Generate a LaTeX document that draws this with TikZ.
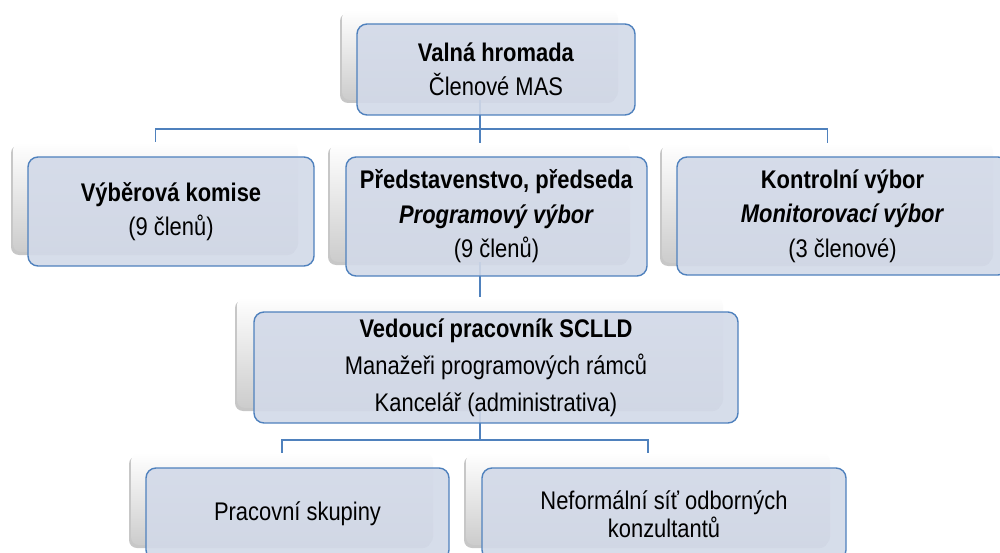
\documentclass[tikz,border=0pt]{standalone}
\usepackage{fontspec}
\setmainfont{Liberation Sans}[FakeStretch=0.86]
\usetikzlibrary{shadows}
\definecolor{accent}{HTML}{4F81BD}
\definecolor{frontfill}{HTML}{D2D9E8}
\tikzset{
  backbox/.style={rectangle, rounded corners=8pt, inner sep=0pt,
    top color=white, bottom color=black!20, draw=none,
    drop shadow={shadow xshift=-2pt, shadow yshift=-3pt, opacity=0.22, fill=black}},
  frontbox/.style={rectangle, rounded corners=10pt, inner sep=0pt, draw=accent, line width=1.4pt,
    fill=frontfill, fill opacity=0.9, text opacity=1, align=center,
    font=\fontsize{25.5}{34.5}\selectfont},
  conn/.style={draw=accent, line width=1.4pt}
}
\begin{document}
\begin{tikzpicture}[x=1pt,y=1pt]
\useasboundingbox (0,0) rectangle (1000,-553);
\clip (0,0) rectangle (1000,-553);
% back boxes
\node[backbox, minimum width=276pt, minimum height=90pt] (tb) at (480,-55) {};
\node[backbox, minimum width=285pt, minimum height=110pt] (vb) at (155.5,-197) {};
\node[backbox, minimum width=300pt, minimum height=119pt] (pb) at (480,-202.5) {};
\node[backbox, minimum width=331pt, minimum height=120pt] (kb) at (827.5,-203) {};
\node[backbox, minimum width=486pt, minimum height=111pt] (sb) at (480,-352.5) {};
\node[backbox, minimum width=302pt, minimum height=92pt] (wb) at (282,-499) {};
\node[backbox, minimum width=364pt, minimum height=92pt] (nb) at (648,-499) {};
% connectors
\coordinate (bus1) at (480,-129);
\coordinate (bus2) at (480,-440);
\draw[conn] (tb.south) -- (bus1);
\draw[conn] (vb.north) -- (vb.north |- bus1) -- (kb.north |- bus1) -- (kb.north);
\draw[conn] (bus1) -- (pb.north);
\draw[conn] (pb.south) -- (sb.north);
\draw[conn] (sb.south) -- (bus2);
\draw[conn] (wb.north) -- (wb.north |- bus2) -- (nb.north |- bus2) -- (nb.north);
% front boxes
\node[frontbox, minimum width=278pt, minimum height=91pt] (tf) at (496,-69.5)
  {\textbf{Valná hromada}\\Členové MAS};
\node[frontbox, minimum width=286pt, minimum height=109pt] (vf) at (171,-211.5)
  {\textbf{Výběrová komise}\\(9 členů)};
\node[frontbox, minimum width=301pt, minimum height=119pt] (pf) at (496.5,-216.5)
  {\textbf{Představenstvo, předseda}\\\textbf{\textit{Programový výbor}}\\(9 členů)};
\node[frontbox, minimum width=331pt, minimum height=118pt] (kf) at (842.5,-216)
  {\textbf{Kontrolní výbor}\\\textbf{\textit{Monitorovací výbor}}\\(3 členové)};
\node[frontbox, minimum width=484pt, minimum height=111pt, font=\fontsize{25.5}{37}\selectfont] (sf) at (496,-367.5)
  {\textbf{Vedoucí pracovník SCLLD}\\Manažeři programových rámců\\Kancelář (administrativa)};
\node[frontbox, minimum width=303pt, minimum height=92pt] (wf) at (297.5,-514)
  {Pracovní skupiny};
\node[frontbox, minimum width=364pt, minimum height=92pt, font=\fontsize{25.5}{28}\selectfont] (nf) at (664,-514)
  {Neformální síť odborných\\konzultantů};
\end{tikzpicture}
\end{document}
